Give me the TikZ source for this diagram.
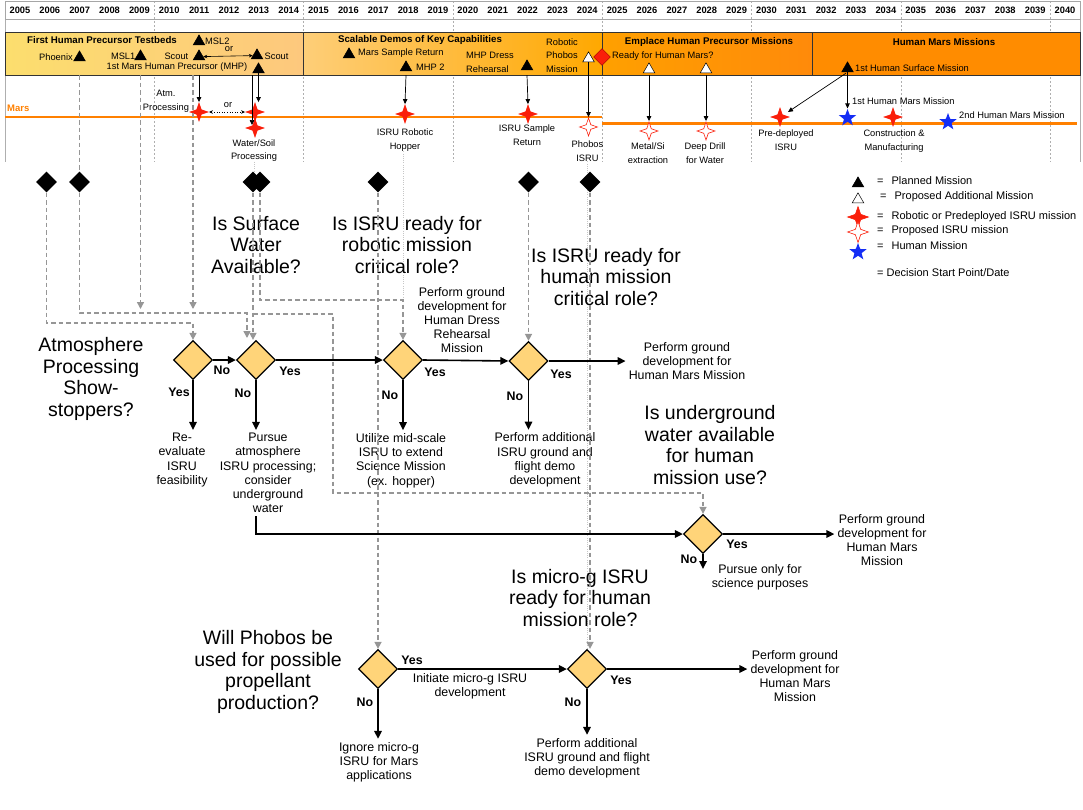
\documentclass[tikz,border=0pt]{standalone}
\usepackage{fontspec}
\setmainfont{Liberation Sans}
\usetikzlibrary{arrows.meta, shapes.geometric, calc, backgrounds}

\definecolor{isruRed}{RGB}{250,30,10}
\definecolor{humanBlue}{RGB}{20,45,245}
\definecolor{decYellow}{RGB}{255,212,121}
\definecolor{marsOrange}{RGB}{255,128,0}
\definecolor{phAa}{RGB}{252,222,110}
\definecolor{phAb}{RGB}{253,200,125}
\definecolor{phBa}{RGB}{254,206,120}
\definecolor{phBb}{RGB}{255,168,0}
\definecolor{phCa}{RGB}{255,160,0}
\definecolor{phCb}{RGB}{255,138,10}
\definecolor{phD}{RGB}{255,140,0}
\definecolor{gateGray}{RGB}{150,150,150}
\definecolor{gridGray}{RGB}{175,175,175}

\tikzset{
  gridline/.style={draw=gridGray, line width=0.6pt, dash pattern=on 2pt off 2pt},
  yearbox/.style={rectangle, draw=gray!70, minimum width=1075pt, minimum height=18pt, inner sep=0},
  yearlbl/.style={font=\fontsize{9.3}{10}\selectfont\bfseries, inner sep=0},
  phasebar/.style 2 args={
    rectangle, draw=black!80, left color=#1, right color=#2,
    minimum height=43pt, inner sep=0
  },
  phasettl/.style={font=\fontsize{9.7}{11}\selectfont\bfseries, inner sep=0},
  tltext/.style={font=\fontsize{9.3}{13.7}\selectfont, inner sep=0, align=center},
  mission/.style={
    regular polygon, regular polygon sides=3, draw=black, line width=0.5pt,
    fill=#1, minimum size=13.5pt, inner sep=0
  },
  isrustar/.style={
    star, star points=4, star point ratio=2.8, draw=isruRed, line width=0.6pt,
    fill=#1, minimum size=18pt, inner sep=0
  },
  humanstar/.style={star, star points=5, star point ratio=2.4, fill=humanBlue, minimum size=18pt, inner sep=0},
  readymark/.style={diamond, draw=red!60!black, fill=isruRed, minimum size=17pt, inner sep=0},
  startmark/.style={diamond, fill=black, minimum size=21pt, inner sep=0},
  decision/.style={diamond, draw=black, line width=1.3pt, fill=decYellow, minimum size=39pt, inner sep=0},
  question/.style={font=\fontsize{19.5}{21.5}\selectfont, align=center, inner sep=0},
  outcome/.style={font=\fontsize{12.4}{14.2}\selectfont, align=center, inner sep=3pt},
  answer/.style={font=\fontsize{12.4}{14}\selectfont\bfseries, inner sep=0},
  legendtxt/.style={font=\fontsize{11}{13}\selectfont, anchor=west, inner sep=0},
  flowarrow/.style={-{Triangle[length=8pt,width=7.5pt]}, line width=1.6pt},
  gatearrow/.style={-{Triangle[length=7pt,width=7pt]}, draw=gateGray, line width=1.5pt, dash pattern=on 4.5pt off 3pt},
  gateline/.style={draw=gateGray, line width=1.5pt, dash pattern=on 4.5pt off 3pt},
  traceline/.style={draw=gray!45, line width=0.9pt, dash pattern=on 1pt off 1.2pt},
  tlarrow/.style={-{Triangle[length=5pt,width=4.5pt]}, line width=0.7pt},
  orarrow/.style={{Stealth[length=4pt,width=3.5pt]}-{Stealth[length=4pt,width=3.5pt]}, line width=0.6pt},
  marsline/.style={draw=marsOrange, line width=2.6pt},
}

\begin{document}
\begin{tikzpicture}[x=1pt, y=-1pt]
\useasboundingbox (0,0) rectangle (1083,809);

\foreach \k in {1,...,7}
  \draw[gridline] ({5+149.3*\k},1) -- ({5+149.3*\k},162);
\draw[draw=gridGray, line width=0.6pt] (5,1) -- (5,162) (1080,1) -- (1080,162);

\node[yearbox] (years) at (542.5,10) {};
\foreach \yr [count=\i from 0] in {2005,...,2040}
  \node[yearlbl] (y\yr) at ({5+29.86*(\i+0.5)},10) {\yr};

\node[phasebar={phAa}{phAb}, minimum width=298.6pt] (ph1) at (154.3,53.5) {};
\node[phasebar={phBa}{phBb}, minimum width=298.6pt] (ph2) at (452.9,53.5) {};
\node[phasebar={phCa}{phCb}, minimum width=209.8pt] (ph3) at (707.1,53.5) {};
\node[phasebar={phD}{phD}, minimum width=268pt] (ph4) at (946,53.5) {};

\node[phasettl] (tt1) at (102,40) {First Human Precursor Testbeds};
\node[phasettl] (tt2) at (420,40) {Scalable Demos of Key Capabilities};
\node[phasettl] (tt3) at (709,42) {Emplace Human Precursor Missions};
\node[phasettl] (tt4) at (944,42) {Human Mars Missions};

\node[mission=black] (tPhoenix) at (79.5,57.6) {};
\node[tltext, anchor=east] (lPhoenix) at (73,57) {Phoenix};
\node[mission=black] (tMSL1) at (140.5,56.6) {};
\node[tltext, anchor=east] (lMSL1) at (135.5,56) {MSL1};
\node[mission=black] (tScout) at (199,56.6) {};
\node[tltext, anchor=east] (lScout) at (188.5,56) {Scout};
\node[mission=black] (tMSL2) at (199,41.6) {};
\node[tltext, anchor=west] (lMSL2) at (205,41) {MSL2};
\node[mission=black] (tScoutB) at (257,55.6) {};
\node[tltext, anchor=west] (lScoutB) at (264.5,56) {Scout};
\node[tltext] (lMHP) at (177,67.5) {1st Mars Human Precursor (MHP)};
\node[mission=black] (tMHP) at (258.5,69.6) {};
\node[tltext] (lOrA) at (229,49.5) {or};
\draw[orarrow] (tScout.east) -- (tScoutB.west);

\node[mission=black] (tMSR) at (349,54.6) {};
\node[tltext, anchor=west] (lMSR) at (358,53) {Mars Sample Return};
\node[mission=black] (tMHP2) at (406,67.6) {};
\node[tltext, anchor=west] (lMHP2) at (416,67) {MHP 2};
\node[tltext, align=left, anchor=west] (lDress) at (466,62.5) {MHP Dress\\Rehearsal};
\node[mission=black] (tDress) at (527,66.6) {};
\node[tltext, align=left, anchor=west] (lRobPh) at (546,55.5) {Robotic\\Phobos\\Mission};
\node[mission=white] (tPhobos) at (588.5,58.6) {};
\node[readymark] (ready) at (602,57) {};

\node[tltext, anchor=west] (lReady) at (612,56) {Ready for Human Mars?};
\node[mission=white] (tMetal) at (649,69.6) {};
\node[mission=white] (tDrill) at (706,69.6) {};

\node[mission=black] (tHuman) at (847.5,68.6) {};
\node[tltext, anchor=west] (lHuman) at (855,68) {1st Human Surface Mission};

\draw[marsline] (5,117) -- (602,117);
\draw[marsline] (602,123.5) -- (1077,123.5);
\node[font=\fontsize{9.5}{11}\selectfont\bfseries, text=marsOrange, anchor=west, inner sep=0] (lMars) at (7,108) {Mars};

\node[tltext] (lAtm) at (166,101.5) {Atm.\\Processing};
\node[isrustar=isruRed] (sAtm) at (199,112) {};
\node[isrustar=isruRed] (sSoilB) at (255,128) {};
\node[isrustar=isruRed] (sSoilA) at (255,112) {};
\node[tltext] (lOrB) at (228,105.5) {or};
\draw[orarrow, dotted] (sAtm.east) -- (sSoilA.west);

\begin{scope}
\clip (0,75) rectangle (1083,162.5);
\node[tltext] (lSoil) at (254,150.5) {Water/Soil\\Processing};
\node[tltext] (lHop) at (405,140) {ISRU Robotic\\Hopper};
\node[tltext] (lSR) at (527,135.5) {ISRU Sample\\Return};
\node[tltext] (lPh) at (587.5,151) {Phobos\\ISRU};
\node[tltext] (lMe) at (648,153) {Metal/Si\\extraction};
\node[tltext] (lDr) at (705,153) {Deep Drill\\for Water};
\node[tltext] (lPre) at (786,140) {Pre-deployed\\ISRU};
\node[tltext] (lCon) at (894,141) {Construction \&\\Manufacturing};
\end{scope}
\node[tltext, anchor=west] (lH1) at (852,101) {1st Human Mars Mission};
\node[tltext, anchor=west] (lH2) at (959,115) {2nd Human Mars Mission};

\node[isrustar=isruRed] (sHop) at (405,114) {};
\node[isrustar=isruRed] (sSR) at (528,114) {};
\node[isrustar=white] (sPh) at (588.5,127) {};
\node[isrustar=white] (sMe) at (649,131) {};
\node[isrustar=white] (sDr) at (706,131) {};
\node[isrustar=isruRed] (sPre) at (780,117) {};
\node[humanstar] (bH1) at (847.5,118) {};
\node[isrustar=isruRed] (sCon) at (893,117) {};
\node[humanstar] (bH2) at (948,122) {};

\draw[tlarrow] (tScout |- ph1.south) -- (sAtm.north);
\draw[tlarrow] ($(sSoilB |- ph1.south)+(-3,0)$) -- ($(sSoilB)+(-3,-3)$);
\draw[tlarrow] (tMHP.south) -- (tMHP.south |- sSoilA.north);
\draw[tlarrow] (tMHP2 |- ph2.south) -- (sHop.north);
\draw[tlarrow] (tDress |- ph2.south) -- (sSR.north);
\draw[tlarrow] (tPhobos.south) -- (sPh.north);
\draw[tlarrow] (tMetal |- ph3.south) -- (sMe.north);
\draw[tlarrow] (tDrill |- ph3.south) -- (sDr.north);
\draw[tlarrow, shorten <=2pt] (tHuman.south) -- ($(sPre)+(8,-5)$);
\draw[tlarrow] (tHuman.south) -- (bH1.north);

\node[mission=black] (kPlan) at (858,183.6) {};
\node[legendtxt] (kPlanT) at (877,181) {=\hspace{8pt}Planned Mission};
\node[mission=white] (kProp) at (858,199.6) {};
\node[legendtxt] (kPropT) at (880,197) {=\hspace{8pt}Proposed Additional Mission};
\node[isrustar=isruRed, minimum size=21pt] (kRob) at (858,217) {};
\node[legendtxt] (kRobT) at (877,217) {=\hspace{8pt}Robotic or Predeployed ISRU mission};
\node[isrustar=white, minimum size=21pt] (kPis) at (858,232) {};
\node[legendtxt] (kPisT) at (877,231) {=\hspace{8pt}Proposed ISRU mission};
\node[humanstar] (kHum) at (858,252) {};
\node[legendtxt] (kHumT) at (877,246) {=\hspace{8pt}Human Mission};
\node[legendtxt] (kDecT) at (877,273) {= Decision Start Point/Date};

\node[question] (qAtm) at (91,379) {Atmosphere\\Processing\\Show-\\stoppers?};
\node[question] (qSurf) at (256,245) {Is Surface\\Water\\Available?};
\node[question] (qRob) at (407,245) {Is ISRU ready for\\robotic mission\\critical role?};
\node[question] (qHum) at (606,277) {Is ISRU ready for\\human mission\\critical role?};
\node[question] (qUnd) at (710,445) {Is underground\\water available\\for human\\mission use?};
\node[question] (qMicro) at (580,598) {Is micro-g ISRU\\ready for human\\mission role?};
\node[question] (qPhob) at (268,672) {Will Phobos be\\used for possible\\propellant\\production?};

\node[startmark] (dmA) at (46.5,182) {};
\node[startmark] (dmB) at (79.5,182) {};
\node[startmark] (dmC) at (253,182) {};
\node[startmark] (dmD) at (260,182) {};
\node[startmark] (dmE) at (378,182) {};
\node[startmark] (dmF) at (528.5,182) {};
\node[startmark] (dmG) at (590,182) {};

\node[decision] (d1) at (193,360) {};
\node[decision] (d2) at (256,360) {};
\node[decision] (d3) at (403,360) {};
\node[decision] (d4) at (528.5,361) {};
\node[decision] (d5) at (703,534) {};
\node[decision] (d6) at (378,669) {};
\node[decision] (d7) at (587,669) {};

\node[outcome] (oReeval) at (182,460) {Re-\\evaluate\\ISRU\\feasibility};
\node[outcome] (oPursue) at (268,473) {Pursue\\atmosphere\\ISRU processing;\\consider\\underground\\water};
\node[outcome] (oDress) at (462,320) {Perform ground\\development for\\Human Dress\\Rehearsal\\Mission};
\node[outcome] (oUtil) at (401,460.5) {Utilize mid-scale\\ISRU to extend\\Science Mission\\(ex. hopper)};
\node[outcome] (oHMa) at (687,361) {Perform ground\\development for\\Human Mars Mission};
\node[outcome] (oAddA) at (545,460) {Perform additional\\ISRU ground and\\flight demo\\development};
\node[outcome] (oHMb) at (882,540) {Perform ground\\development for\\Human Mars\\Mission};
\node[outcome] (oSci) at (760,577) {Pursue only for\\science purposes};
\node[outcome] (oInit) at (470,686) {Initiate micro-g ISRU\\development};
\node[outcome] (oIgn) at (379,762) {Ignore micro-g\\ISRU for Mars\\applications};
\node[outcome] (oHMc) at (795,676) {Perform ground\\development for\\Human Mars\\Mission};
\node[outcome] (oAddB) at (587,758) {Perform additional\\ISRU ground and flight\\demo development};

\coordinate (gA) at (193,323);
\coordinate (gB) at (247,313);
\coordinate (gBe) at (247,338);
\coordinate (gMsl) at (140.5,309);
\coordinate (gC1) at (333,314);
\coordinate (gC2) at (333,493);
\coordinate (gD) at (403,300);
\coordinate (d5n) at (703,569);

\begin{scope}[on background layer]
\draw[traceline] (lSoil.south) -- (lSoil.south |- dmC.north);
\draw[traceline] (lHop.south -| gD) -- (gD);
\draw[traceline] (lPh.south) -- (lPh.south |- d7.north);
\end{scope}

\draw[gatearrow] (dmA.south) |- (gA) -- (d1.north);
\draw[gateline] (tPhoenix |- ph1.south) -- (dmB.north);
\draw[gatearrow] (dmB.south) |- (gB) -- (gBe);
\draw[gatearrow] (tMSL1 |- ph1.south) -- (gMsl);
\draw[gatearrow] (gA |- ph1.south) -- (gA |- gMsl);
\draw[gatearrow] (dmC.south) -- (dmC.south |- d2.north);
\draw[gatearrow] (dmC |- gC1) -- (gC1) -- (gC2) -| (d5.north);
\draw[gatearrow] (dmD.south) |- (gD) -- (d3.north);
\draw[gatearrow] (dmE.south) -- (d6.north);
\draw[gatearrow] (dmF.south) -- (d4.north);
\draw[gatearrow] (dmG.south) -- (dmG.south |- d7.north);

\draw[flowarrow] (d1.east) -- (d2.west);
\draw[flowarrow] (d1.south) -- (d1.south |- oReeval.north);
\draw[flowarrow] (d2.south) -- (d2.south |- oPursue.north);
\draw[flowarrow] (d2.east) -- (d3.west);
\draw[flowarrow] (d3.east) -- (d4.west);
\draw[flowarrow] (d3.south) -- (d3.south |- oUtil.north);
\draw[flowarrow] (d4.east) -- (d4.east -| oHMa.west);
\draw[flowarrow] (d4.south) -- (d4.south |- oAddA.north);
\draw[flowarrow] (d2 |- oPursue.south) |- (d5.west);
\draw[flowarrow] (d5.east) -- (d5.east -| oHMb.west);
\draw[flowarrow] (d5.south) -- (d5n);
\draw[flowarrow] (d6.east) -- (d7.west);
\draw[flowarrow] (d6.south) -- (d6.south |- oIgn.north);
\draw[flowarrow] (d7.east) -- (d7.east -| oHMc.west);
\draw[flowarrow] (d7.south) -- (d7.south |- oAddB.north);

\node[answer] (a1r) at (222,370) {No};
\node[answer] (a1d) at (179,392) {Yes};
\node[answer] (a2d) at (243,393) {No};
\node[answer] (a2r) at (290,371) {Yes};
\node[answer] (a3d) at (390,395) {No};
\node[answer] (a3r) at (435,372) {Yes};
\node[answer] (a4d) at (515,396) {No};
\node[answer] (a4r) at (561,374) {Yes};
\node[answer] (a5r) at (737,544) {Yes};
\node[answer] (a5d) at (689,559) {No};
\node[answer] (a6r) at (412,660) {Yes};
\node[answer] (a6d) at (365,702) {No};
\node[answer] (a7r) at (621,680) {Yes};
\node[answer] (a7d) at (573,702) {No};
\end{tikzpicture}
\end{document}
